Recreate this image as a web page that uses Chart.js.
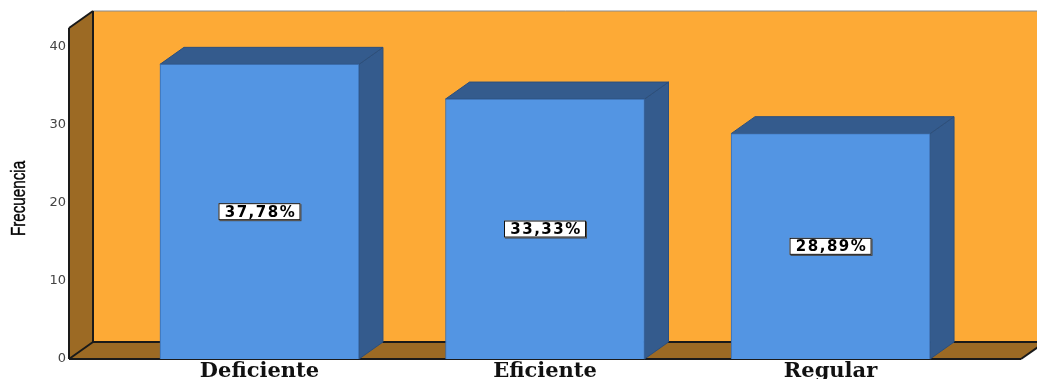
<!DOCTYPE html>
<html>
<head>
<meta charset="utf-8">
<script src="https://cdn.jsdelivr.net/npm/chart.js@4/dist/chart.umd.min.js"></script>
<style>
    body { margin: 0; background: #fff; }
    #wrap { width: 1037px; height: 379px; position: relative; }
</style>
</head>
<body>
<div id="wrap"><canvas id="barChart"></canvas></div>
<script>
// Frecuencia por nivel
const categories = ['Deficiente', 'Eficiente', 'Regular'];
const percentages = [37.78, 33.33, 28.89];
const yTicks = [0, 10, 20, 30, 40];
const yTitle = 'Frecuencia';

// 3D look
const DEPTH_X = 24;
const DEPTH_Y = -17;
const WALL_COLOR = '#fdaa36';
const SIDE_COLOR = '#9c6a24';
const BAR_FRONT = '#5395e3';
const BAR_SIDE = '#345b8d';

function poly(ctx, pts, fill, stroke, lw) {
    ctx.beginPath();
    ctx.moveTo(pts[0][0], pts[0][1]);
    for (let i = 1; i < pts.length; i++) ctx.lineTo(pts[i][0], pts[i][1]);
    ctx.closePath();
    if (fill) { ctx.fillStyle = fill; ctx.fill(); }
    if (stroke) { ctx.strokeStyle = stroke; ctx.lineWidth = lw || 1; ctx.stroke(); }
}

function line(ctx, x1, y1, x2, y2, color, lw) {
    ctx.beginPath();
    ctx.moveTo(x1, y1);
    ctx.lineTo(x2, y2);
    ctx.strokeStyle = color;
    ctx.lineWidth = lw;
    ctx.stroke();
}

const box3d = {
    id: 'box3d',
    beforeDatasetsDraw(chart) {
        const ctx = chart.ctx;
        const { left: L, right: R, top: T, bottom: B } = chart.chartArea;
        const dx = DEPTH_X, dy = DEPTH_Y;
        ctx.save();

        // back wall, left wall, floor
        ctx.fillStyle = WALL_COLOR;
        ctx.fillRect(L + dx, T + dy, R - L, B - T);
        poly(ctx, [[L, T], [L + dx, T + dy], [L + dx, B + dy], [L, B]], SIDE_COLOR);
        poly(ctx, [[L, B], [L + dx, B + dy], [R + dx, B + dy], [R, B]], SIDE_COLOR);

        line(ctx, L + dx, T + dy, R + dx, T + dy, '#8a8a8a', 1);
        line(ctx, L + dx, T + dy, L + dx, B + dy, '#1a1a1a', 2);
        line(ctx, L + dx, B + dy, R + dx, B + dy, '#1a1a1a', 2);
        line(ctx, L, T, L + dx, T + dy, '#1a1a1a', 2);
        line(ctx, L, B, L + dx, B + dy, '#1a1a1a', 2);
        line(ctx, R, B, R + dx, B + dy, '#1a1a1a', 2);
        line(ctx, L, T, L, B, '#1a1a1a', 2);
        line(ctx, L, B, R, B, '#1a1a1a', 2);

        // bar tops and sides
        chart.getDatasetMeta(0).data.forEach(bar => {
            const half = bar.width / 2;
            const x1 = bar.x - half, x2 = bar.x + half;
            const top = bar.y, base = bar.base;
            poly(ctx, [[x2, top], [x2 + dx, top + dy], [x2 + dx, base + dy], [x2, base]], BAR_SIDE, '#2c4f7c', 1);
            poly(ctx, [[x1, top], [x1 + dx, top + dy], [x2 + dx, top + dy], [x2, top]], BAR_SIDE, '#2c4f7c', 1);
        });
        ctx.restore();
    },
    afterDatasetsDraw(chart) {
        const ctx = chart.ctx;
        const yScale = chart.scales.y;
        ctx.save();
        ctx.font = 'bold 15px "DejaVu Sans", sans-serif';
        if ('letterSpacing' in ctx) ctx.letterSpacing = '1.5px';
        ctx.textAlign = 'center';
        ctx.textBaseline = 'middle';
        chart.getDatasetMeta(0).data.forEach((bar, i) => {
            const v = percentages[i];
            const text = v.toFixed(2).replace('.', ',') + '%';
            const cx = bar.x;
            const cy = yScale.getPixelForValue(v / 2);
            const w = 82, h = 17;
            ctx.fillStyle = '#444';
            ctx.fillRect(cx - w / 2 + 1, cy - h / 2 + 1, w, h);
            ctx.fillStyle = '#fff';
            ctx.fillRect(cx - w / 2, cy - h / 2, w, h);
            ctx.strokeStyle = '#111';
            ctx.lineWidth = 1;
            ctx.strokeRect(cx - w / 2 + 0.5, cy - h / 2 + 0.5, w - 1, h - 1);
            ctx.fillStyle = '#000';
            ctx.fillText(text, cx + 1, cy + 1);
        });
        ctx.restore();
    },
    afterDraw(chart) {
        // condensed axis title
        const ctx = chart.ctx;
        const { top: T, bottom: B } = chart.chartArea;
        ctx.save();
        ctx.translate(19, (T + B) / 2 + 5);
        ctx.rotate(-Math.PI / 2);
        ctx.scale(0.76, 1);
        ctx.font = '20px "Liberation Sans", sans-serif';
        ctx.fillStyle = '#000';
        ctx.strokeStyle = '#000';
        ctx.lineWidth = 0.4;
        ctx.textAlign = 'center';
        ctx.textBaseline = 'middle';
        ctx.fillText(yTitle, 0, 0);
        ctx.strokeText(yTitle, 0, 0);
        ctx.restore();
    }
};

new Chart(document.getElementById('barChart'), {
    type: 'bar',
    data: {
        datasets: [{
            data: percentages.map((v, i) => ({ x: i, y: v })),
            backgroundColor: BAR_FRONT,
            borderColor: '#3b6cab',
            borderWidth: 1,
            barThickness: 199
        }]
    },
    options: {
        responsive: true,
        maintainAspectRatio: false,
        animation: false,
        layout: { padding: { top: 28, right: 16, left: 0, bottom: 0 } },
        plugins: {
            legend: { display: false },
            tooltip: { enabled: false }
        },
        scales: {
            x: {
                type: 'linear',
                offset: false,
                min: -0.667,
                max: 2.667,
                afterBuildTicks: scale => { scale.ticks = categories.map((c, i) => ({ value: i })); },
                afterFit: scale => { scale.height = 20; },
                grid: { display: false, drawTicks: false, offset: false },
                border: { display: false },
                ticks: {
                    padding: 0,
                    color: '#111',
                    font: { family: '"DejaVu Serif", serif', size: 21, weight: 'bold' },
                    callback: value => categories[value]
                }
            },
            y: {
                min: 0,
                max: 42.44,
                afterBuildTicks: scale => { scale.ticks = yTicks.map(v => ({ value: v })); },
                afterFit: scale => { scale.width = 69; },
                grid: { display: false, drawTicks: false },
                border: { display: false },
                ticks: {
                    padding: 3,
                    color: '#444',
                    font: { family: '"DejaVu Sans", sans-serif', size: 13 }
                }
            }
        }
    },
    plugins: [box3d]
});
</script>
</body>
</html>
